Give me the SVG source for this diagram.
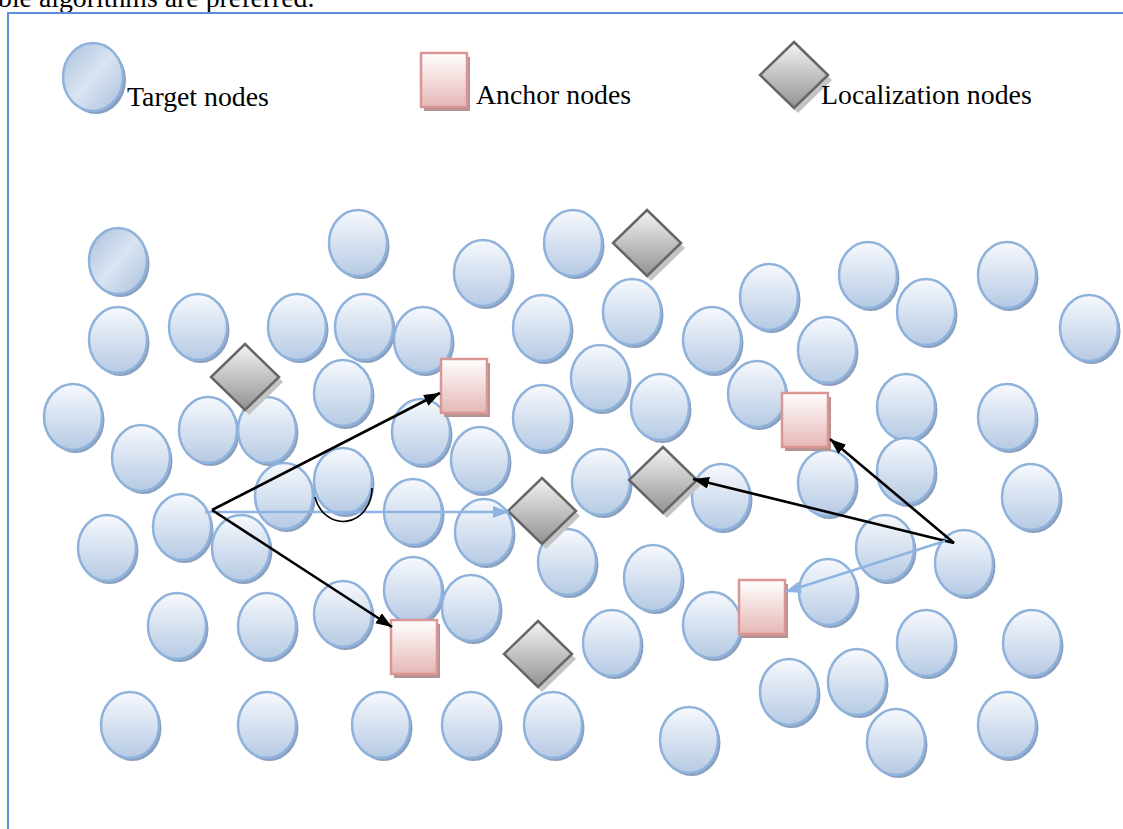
<svg xmlns="http://www.w3.org/2000/svg" xmlns:xlink="http://www.w3.org/1999/xlink" width="1123" height="829" viewBox="0 0 1123 829">
  <style>
    .lbl { font-family: "Liberation Serif", "Times New Roman", serif; font-size: 27.8px; fill: #000; }
    .circ { stroke: #8eb2dc; stroke-width: 2.5; }
    .csh { fill: #8a9fbd; }
    .sq { fill: url(#gSq); stroke: #d99694; stroke-width: 2.5; }
    .sqsh { fill: #b59392; }
    .dm { fill: url(#gDm); stroke: #666; stroke-width: 2.5; }
    .dmsh { fill: #c4c4c4; }
    .blk { stroke: #000; stroke-width: 2.6; fill: none; }
    .blu { stroke: #8eb4e3; stroke-width: 2.6; fill: none; }
  </style>
  <defs>
    <linearGradient id="gCirc" x1="0" y1="0" x2="0" y2="1">
      <stop offset="0" stop-color="#f7f9fd"/>
      <stop offset="1" stop-color="#b6cae4"/>
    </linearGradient>
    <linearGradient id="gCircDiag" x1="0" y1="0" x2="1" y2="1">
      <stop offset="0" stop-color="#a9c0de"/>
      <stop offset="0.5" stop-color="#dae4f1"/>
      <stop offset="1" stop-color="#a9c0de"/>
    </linearGradient>
    <linearGradient id="gSq" x1="0" y1="0" x2="0" y2="1">
      <stop offset="0" stop-color="#ffffff"/>
      <stop offset="1" stop-color="#e6b7b6"/>
    </linearGradient>
    <linearGradient id="gDm" x1="0" y1="0" x2="0" y2="1">
      <stop offset="0" stop-color="#f4f4f4"/>
      <stop offset="1" stop-color="#929292"/>
    </linearGradient>
    <marker id="ahBlk" markerUnits="userSpaceOnUse" markerWidth="18" markerHeight="14" refX="16" refY="6" orient="auto">
      <path d="M0,0 L16,6 L0,12 z" fill="#000"/>
    </marker>
    <marker id="ahBlu" markerUnits="userSpaceOnUse" markerWidth="18" markerHeight="14" refX="16" refY="6" orient="auto">
      <path d="M0,0 L16,6 L0,12 z" fill="#8eb4e3"/>
    </marker>
    <!-- reusable shapes, drawn around their own origin -->
    <g id="target">
      <ellipse class="csh" cx="2.5" cy="3" rx="29" ry="33"/>
      <ellipse class="circ" cx="0" cy="0" rx="29" ry="33" fill="url(#gCirc)"/>
    </g>
    <g id="targetDiag">
      <ellipse class="csh" cx="2.5" cy="3" rx="29" ry="33"/>
      <ellipse class="circ" cx="0" cy="0" rx="29" ry="33" fill="url(#gCircDiag)"/>
    </g>
    <g id="anchor">
      <rect class="sqsh" x="3" y="4" width="46" height="54"/>
      <rect class="sq" x="0" y="0" width="46" height="54"/>
    </g>
    <g id="locnode">
      <polygon class="dmsh" points="4,-28 38,5 4,38 -30,5"/>
      <polygon class="dm" points="0,-33 34,0 0,33 -34,0"/>
    </g>
  </defs>

  <rect width="1123" height="829" fill="#fff"/>

  <!-- running text cut at the top of the page -->
  <text class="lbl" x="-2" y="7">ble algorithms are preferred.</text>

  <!-- frame -->
  <path d="M8,829 L8,13 L1123,13" fill="none" stroke="#5b8ed6" stroke-width="2"/>

  <!-- legend -->
  <g id="legend">
    <g id="legend-target">
      <ellipse class="csh" cx="96" cy="80" rx="30" ry="34"/>
      <ellipse class="circ" cx="93" cy="77" rx="30" ry="34" fill="url(#gCircDiag)"/>
      <text class="lbl" x="127" y="106">Target nodes</text>
    </g>
    <g id="legend-anchor">
      <use xlink:href="#anchor" href="#anchor" transform="translate(421,53)"/>
      <text class="lbl" x="476" y="104">Anchor nodes</text>
    </g>
    <g id="legend-loc">
      <use xlink:href="#locnode" href="#locnode" transform="translate(794,75)"/>
      <text class="lbl" x="821" y="104">Localization nodes</text>
    </g>
  </g>

  <!-- target nodes -->
  <g id="targets">
    <g id="t0"><use href="#targetDiag" transform="translate(118,261)"/></g>
    <g id="t1"><use href="#target" transform="translate(358,243)"/></g>
    <g id="t2"><use href="#target" transform="translate(573,243)"/></g>
    <g id="t3"><use href="#target" transform="translate(483,273)"/></g>
    <g id="t4"><use href="#target" transform="translate(868,275)"/></g>
    <g id="t5"><use href="#target" transform="translate(1007,275)"/></g>
    <g id="t6"><use href="#target" transform="translate(769,297)"/></g>
    <g id="t7"><use href="#target" transform="translate(632,312)"/></g>
    <g id="t8"><use href="#target" transform="translate(926,312)"/></g>
    <g id="t9"><use href="#target" transform="translate(118,340)"/></g>
    <g id="t10"><use href="#target" transform="translate(198,327)"/></g>
    <g id="t11"><use href="#target" transform="translate(297,327)"/></g>
    <g id="t12"><use href="#target" transform="translate(364,327)"/></g>
    <g id="t13"><use href="#target" transform="translate(423,340)"/></g>
    <g id="t14"><use href="#target" transform="translate(542,328)"/></g>
    <g id="t15"><use href="#target" transform="translate(712,340)"/></g>
    <g id="t16"><use href="#target" transform="translate(827,350)"/></g>
    <g id="t17"><use href="#target" transform="translate(1089,328)"/></g>
    <g id="t18"><use href="#target" transform="translate(600,378)"/></g>
    <g id="t19"><use href="#target" transform="translate(343,393)"/></g>
    <g id="t20"><use href="#target" transform="translate(757,394)"/></g>
    <g id="t21"><use href="#target" transform="translate(660,407)"/></g>
    <g id="t22"><use href="#target" transform="translate(73,417)"/></g>
    <g id="t23"><use href="#target" transform="translate(208,430)"/></g>
    <g id="t24"><use href="#target" transform="translate(267,430)"/></g>
    <g id="t25"><use href="#target" transform="translate(421,432)"/></g>
    <g id="t26"><use href="#target" transform="translate(542,418)"/></g>
    <g id="t27"><use href="#target" transform="translate(906,407)"/></g>
    <g id="t28"><use href="#target" transform="translate(1007,417)"/></g>
    <g id="t29"><use href="#target" transform="translate(141,458)"/></g>
    <g id="t30"><use href="#target" transform="translate(480,460)"/></g>
    <g id="t33"><use href="#target" transform="translate(284,496)"/></g>
    <g id="t31"><use href="#target" transform="translate(343,481)"/></g>
    <g id="t32"><use href="#target" transform="translate(601,482)"/></g>
    <g id="t34"><use href="#target" transform="translate(721,497)"/></g>
    <g id="t35"><use href="#target" transform="translate(827,483)"/></g>
    <g id="t36"><use href="#target" transform="translate(906,471)"/></g>
    <g id="t37"><use href="#target" transform="translate(1031,497)"/></g>
    <g id="t38"><use href="#target" transform="translate(182,527)"/></g>
    <g id="t39"><use href="#target" transform="translate(413,512)"/></g>
    <g id="t40"><use href="#target" transform="translate(107,548)"/></g>
    <g id="t41"><use href="#target" transform="translate(241,548)"/></g>
    <g id="t42"><use href="#target" transform="translate(484,532)"/></g>
    <g id="t43"><use href="#target" transform="translate(567,562)"/></g>
    <g id="t44"><use href="#target" transform="translate(653,578)"/></g>
    <g id="t45"><use href="#target" transform="translate(885,548)"/></g>
    <g id="t46"><use href="#target" transform="translate(964,563)"/></g>
    <g id="t47"><use href="#target" transform="translate(828,592)"/></g>
    <g id="t48"><use href="#target" transform="translate(413,590)"/></g>
    <g id="t49"><use href="#target" transform="translate(471,608)"/></g>
    <g id="t50"><use href="#target" transform="translate(343,614)"/></g>
    <g id="t51"><use href="#target" transform="translate(177,626)"/></g>
    <g id="t52"><use href="#target" transform="translate(267,626)"/></g>
    <g id="t53"><use href="#target" transform="translate(612,643)"/></g>
    <g id="t54"><use href="#target" transform="translate(712,625)"/></g>
    <g id="t55"><use href="#target" transform="translate(926,643)"/></g>
    <g id="t56"><use href="#target" transform="translate(1032,643)"/></g>
    <g id="t57"><use href="#target" transform="translate(789,692)"/></g>
    <g id="t58"><use href="#target" transform="translate(857,682)"/></g>
    <g id="t59"><use href="#target" transform="translate(130,725)"/></g>
    <g id="t60"><use href="#target" transform="translate(267,725)"/></g>
    <g id="t61"><use href="#target" transform="translate(381,725)"/></g>
    <g id="t62"><use href="#target" transform="translate(471,725)"/></g>
    <g id="t63"><use href="#target" transform="translate(553,725)"/></g>
    <g id="t64"><use href="#target" transform="translate(689,740)"/></g>
    <g id="t65"><use href="#target" transform="translate(896,742)"/></g>
    <g id="t66"><use href="#target" transform="translate(1007,725)"/></g>
  </g>

  <!-- localization nodes -->
  <g id="locs">
    <g id="l1"><use href="#locnode" transform="translate(245,377)"/></g>
    <g id="l2"><use href="#locnode" transform="translate(647,243)"/></g>
    <g id="l3"><use href="#locnode" transform="translate(663,480)"/></g>
    <g id="l4"><use href="#locnode" transform="translate(542,511)"/></g>
    <g id="l5"><use href="#locnode" transform="translate(538,654)"/></g>
  </g>

  <!-- anchor nodes -->
  <g id="anchors">
    <g id="a1"><use href="#anchor" transform="translate(441,359)"/></g>
    <g id="a2"><use href="#anchor" transform="translate(782,393)"/></g>
    <g id="a3"><use href="#anchor" transform="translate(391,620)"/></g>
    <g id="a4"><use href="#anchor" transform="translate(739,580)"/></g>
  </g>

  <!-- connectors -->
  <g id="connectors">
    <path class="blu" d="M205,512 L509,512" marker-end="url(#ahBlu)"/>
    <path class="blk" d="M212,510 L440,393" marker-end="url(#ahBlk)"/>
    <path class="blk" d="M212,510 L392,627" marker-end="url(#ahBlk)"/>
    <path class="blk" d="M954,543 L693,479" marker-end="url(#ahBlk)"/>
    <path class="blk" d="M954,543 L830,439" marker-end="url(#ahBlk)"/>
    <path class="blu" d="M945,541 L785,592" marker-end="url(#ahBlu)"/>
    <!-- angle mark -->
    <path d="M315,497 A29,33 0 0 0 372,488" fill="none" stroke="#000" stroke-width="1.6"/>
  </g>
</svg>
